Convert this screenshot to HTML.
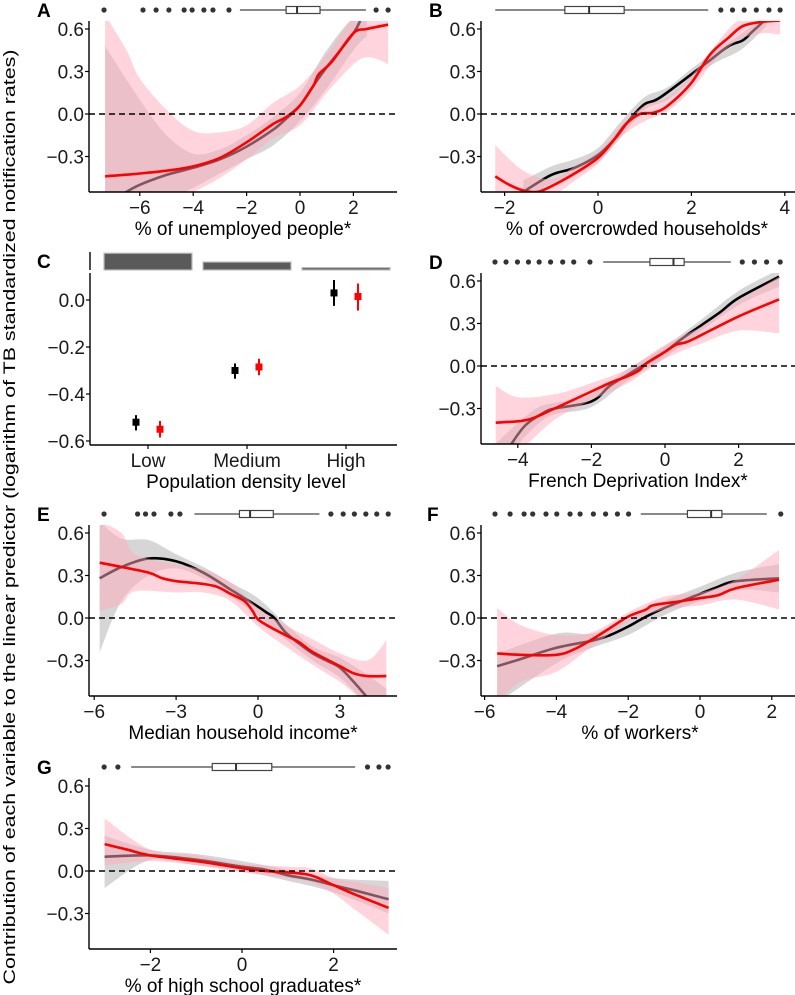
<!DOCTYPE html>
<html><head><meta charset="utf-8"><style>
html,body{margin:0;padding:0;background:#fff}
svg{display:block;font-family:"Liberation Sans",Arial,sans-serif}
</style></head><body>
<svg id="fig" width="795" height="995" viewBox="0 0 795 995" xmlns="http://www.w3.org/2000/svg">
<text transform="translate(15,517) rotate(-90)" text-anchor="middle" font-size="17" textLength="935" lengthAdjust="spacingAndGlyphs">Contribution of each variable to the linear predictor (logarithm of TB standardized notification rates)</text>
</svg>
<script>
// ---- Panel A: % unemployed ----
const A_lineX=[-7.3,-6,-5,-4,-3,-2,-1,-0.5,0,0.5,0.7,1.2,2,2.5,3.3];
const A_red=[-0.44,-0.42,-0.40,-0.37,-0.31,-0.20,-0.07,-0.02,0.06,0.20,0.28,0.37,0.57,0.60,0.63];
const A_blackX=[-6.6,-6,-5,-4,-3,-2,-1,-0.5,0,0.5,1,2,2.3];
const A_black=[-0.56,-0.50,-0.43,-0.38,-0.32,-0.23,-0.11,-0.03,0.06,0.20,0.33,0.57,0.68];
const A_bandX=[-7.3,-6.5,-6,-5,-4,-3,-2,-1,0,1,2,2.5,3,3.3];
const A_redHi=[0.7,0.45,0.25,0.03,-0.12,-0.13,-0.08,0.08,0.2,0.42,0.68,0.68,0.68,0.68];
const A_redLo=[-0.6,-0.6,-0.6,-0.6,-0.55,-0.45,-0.32,-0.17,-0.08,0.15,0.35,0.40,0.38,0.35];
const A_grayX=[-7.3,-6,-5,-4,-3,-2,-1,0,1,2,2.5];
const A_grayHi=[0.48,0.1,-0.15,-0.28,-0.25,-0.15,-0.02,0.15,0.45,0.68,0.68];
const A_grayLo=[-0.6,-0.6,-0.6,-0.52,-0.42,-0.32,-0.22,-0.05,0.18,0.45,0.55];
const A_out=[-7.34,-5.88,-5.39,-4.91,-4.34,-4.04,-3.60,-3.26,-2.66,2.85,3.30];
const A_box=[-2.25,-0.52,-0.11,0.75,2.47];
// ---- Panel B: overcrowded ----
const B_lineX=[-2.2,-1.9,-1.6,-1.3,-1,-0.5,0,0.3,0.6,0.9,1.2,1.5,2,2.4,2.8,3.1,3.5,3.9];
const B_red=[-0.44,-0.50,-0.54,-0.55,-0.51,-0.42,-0.31,-0.20,-0.07,0.0,0.01,0.06,0.22,0.42,0.54,0.62,0.65,0.66];
const B_blackX=[-1.6,-1,-0.5,0,0.4,0.7,1,1.3,2,2.4,2.8,3.1,3.3,3.6];
const B_black=[-0.55,-0.43,-0.38,-0.29,-0.16,-0.03,0.07,0.11,0.28,0.38,0.48,0.52,0.58,0.67];
const B_bandX=[-2.2,-1.6,-1,-0.5,0,0.5,1,1.5,2,2.5,3,3.5,3.9];
const B_redHi=[-0.22,-0.4,-0.46,-0.37,-0.27,-0.08,0.06,0.12,0.27,0.48,0.66,0.68,0.68];
const B_redLo=[-0.6,-0.6,-0.58,-0.47,-0.35,-0.16,-0.05,0.02,0.17,0.38,0.52,0.57,0.56];
const B_grayX=[-1.6,-1,-0.5,0,0.5,1,1.5,2,2.5,3,3.3,3.6];
const B_grayHi=[-0.47,-0.37,-0.32,-0.24,-0.05,0.12,0.19,0.32,0.44,0.55,0.62,0.68];
const B_grayLo=[-0.6,-0.49,-0.43,-0.34,-0.16,0.03,0.10,0.24,0.36,0.44,0.52,0.62];
const B_out=[2.63,2.88,3.13,3.39,3.66,3.90];
const B_box=[-2.2,-0.71,-0.19,0.56,2.36];
// ---- Panel D: deprivation ----
const D_lineX=[-4.6,-4,-3.6,-3,-2,-1.5,-1,-0.7,-0.5,0,0.3,0.6,1,2,3.1];
const D_red=[-0.40,-0.39,-0.37,-0.30,-0.18,-0.12,-0.07,-0.03,0.02,0.10,0.15,0.17,0.22,0.35,0.47];
const D_blackX=[-4.2,-3.8,-3.3,-3,-2,-1.5,-1,-0.5,0,0.5,1,1.5,2,3.1];
const D_black=[-0.56,-0.42,-0.33,-0.30,-0.25,-0.14,-0.06,0.02,0.10,0.20,0.29,0.38,0.48,0.63];
const D_bandX=[-4.6,-4,-3,-2,-1,0,1,2,3.1];
const D_redHi=[-0.14,-0.22,-0.2,-0.12,-0.02,0.15,0.28,0.46,0.63];
const D_redLo=[-0.6,-0.6,-0.38,-0.24,-0.12,0.05,0.16,0.25,0.23];
const D_grayX=[-4.6,-4.2,-3.5,-3,-2,-1,0,1,2,3.1];
const D_grayHi=[-0.55,-0.45,-0.3,-0.26,-0.2,-0.02,0.14,0.33,0.53,0.68];
const D_grayLo=[-0.6,-0.6,-0.42,-0.34,-0.29,-0.1,0.06,0.25,0.43,0.56];
const D_out=[-4.62,-4.32,-4.01,-3.71,-3.42,-3.11,-2.78,-2.48,-2.04,2.10,2.43,2.76,3.13];
const D_box=[-1.68,-0.41,0.23,0.52,1.79];
// ---- Panel E: income ----
const E_lineX=[-5.8,-5,-4,-3.5,-3,-2,-1.5,-1,-0.5,-0.2,0,0.5,1,1.5,2,3,3.5,4,4.7];
const E_red=[0.39,0.36,0.32,0.28,0.26,0.24,0.22,0.17,0.12,0.05,-0.01,-0.07,-0.12,-0.17,-0.24,-0.34,-0.39,-0.41,-0.41];
const E_blackX=[-5.8,-5,-4,-3,-2,-1,-0.5,0,0.3,0.6,1,1.5,2,2.5,3,3.5,4];
const E_black=[0.28,0.36,0.42,0.40,0.32,0.20,0.14,0.08,0.04,0.0,-0.10,-0.18,-0.25,-0.30,-0.35,-0.45,-0.56];
const E_bandX=[-5.8,-5,-4.5,-3,-2,-1,0,1,2,3,4,4.7];
const E_redHi=[0.68,0.6,0.45,0.38,0.34,0.25,0.07,-0.05,-0.15,-0.25,-0.3,-0.16];
const E_redLo=[0.05,0.1,0.19,0.18,0.18,0.12,-0.06,-0.2,-0.33,-0.45,-0.6,-0.6];
const E_grayX=[-5.8,-5,-4,-3,-2,-1,0,1,2,3,4,4.7];
const E_grayHi=[0.68,0.56,0.55,0.45,0.36,0.25,0.14,-0.04,-0.2,-0.28,-0.4,-0.5];
const E_grayLo=[-0.24,0.12,0.30,0.35,0.28,0.15,0.02,-0.15,-0.3,-0.42,-0.6,-0.6];
const E_out=[-5.64,-4.41,-4.12,-3.81,-3.19,-2.86,2.67,3.12,3.53,3.95,4.35,4.77];
const E_box=[-2.33,-0.68,-0.29,0.56,2.25];
// ---- Panel F: workers ----
const F_lineX=[-5.65,-5,-4,-3.5,-3,-2.5,-2,-1.5,-1.3,-0.5,0,0.5,1,2.2];
const F_red=[-0.25,-0.26,-0.26,-0.22,-0.15,-0.07,0.01,0.06,0.09,0.12,0.14,0.16,0.21,0.27];
const F_blackX=[-5.65,-5,-4,-3,-2.5,-2,-1.5,-1,-0.5,0,0.5,1,2.2];
const F_black=[-0.34,-0.29,-0.21,-0.16,-0.12,-0.06,0.01,0.07,0.12,0.17,0.22,0.26,0.28];
const F_bandX=[-5.65,-5,-4,-3,-2,-1,0,1,2.2];
const F_redHi=[0.07,-0.05,-0.12,-0.1,0.04,0.15,0.18,0.27,0.48];
const F_redLo=[-0.6,-0.45,-0.38,-0.2,-0.03,0.06,0.09,0.13,0.06];
const F_grayX=[-5.65,-4,-3,-2,-1,0,1,2.2];
const F_grayHi=[-0.25,-0.11,-0.11,-0.01,0.12,0.22,0.32,0.38];
const F_grayLo=[-0.6,-0.32,-0.21,-0.12,0.02,0.12,0.20,0.18];
const F_out=[-5.71,-5.29,-4.90,-4.66,-4.29,-3.99,-3.62,-3.34,-2.97,-2.63,-2.30,-1.99,2.25];
const F_box=[-1.65,-0.35,0.31,0.61,1.86];
// ---- Panel G: graduates ----
const G_lineX=[-3,-2.5,-2,-1,0,0.5,1,1.5,2,2.5,3.2];
const G_red=[0.19,0.15,0.11,0.07,0.02,0.00,-0.01,-0.03,-0.10,-0.17,-0.26];
const G_blackX=[-3,-2,-1,0,0.5,1,1.5,2,2.5,3.2];
const G_black=[0.10,0.11,0.08,0.03,0.01,-0.03,-0.06,-0.10,-0.14,-0.20];
const G_bandX=[-3,-2,-1,0,1,1.5,2,2.5,3.2];
const G_redHi=[0.37,0.15,0.11,0.05,0.03,0.02,-0.05,-0.08,-0.12];
const G_redLo=[0.04,0.07,0.04,-0.01,-0.05,-0.08,-0.16,-0.28,-0.45];
const G_grayX=[-3,-2,-1,0,1,2,3.2];
const G_grayHi=[0.25,0.15,0.12,0.07,0.01,-0.05,-0.07];
const G_grayLo=[-0.12,0.08,0.04,0.0,-0.07,-0.15,-0.30];
const G_out=[-3.01,-2.71,2.74,2.99,3.19];
const G_box=[-2.42,-0.65,-0.13,0.65,2.47];
// ---- Panel C: density ----
const C_cats=["Low","Medium","High"];
const C_black=[-0.52,-0.30,0.03];
const C_blackLo=[-0.555,-0.335,-0.025];
const C_blackHi=[-0.49,-0.27,0.085];
const C_red=[-0.55,-0.285,0.015];
const C_redLo=[-0.585,-0.32,-0.045];
const C_redHi=[-0.515,-0.25,0.07];
const C_share=[0.42,0.2,0.06];
const Y_TICKS=[0.6,0.3,0,-0.3];
const C_TICKS=[0,-0.2,-0.4,-0.6];

const NS="http://www.w3.org/2000/svg";
const svg=document.getElementById('fig');
const TF=19, TT=19;
function mk(tag,attrs,parent){const e=document.createElementNS(NS,tag);for(const k in attrs)e.setAttribute(k,attrs[k]);(parent||svg).appendChild(e);return e;}
function fmt(v){const s=Math.abs(v).toFixed(1);return (v<-1e-9?"\u2212":"")+s;}
function smooth(pts){let d="M"+pts[0][0].toFixed(1)+","+pts[0][1].toFixed(1);for(let i=0;i<pts.length-1;i++){const p0=pts[Math.max(0,i-1)],p1=pts[i],p2=pts[i+1],p3=pts[Math.min(pts.length-1,i+2)];const c1x=p1[0]+(p2[0]-p0[0])/6,c1y=p1[1]+(p2[1]-p0[1])/6,c2x=p2[0]-(p3[0]-p1[0])/6,c2y=p2[1]-(p3[1]-p1[1])/6;d+=" C"+c1x.toFixed(1)+","+c1y.toFixed(1)+" "+c2x.toFixed(1)+","+c2y.toFixed(1)+" "+p2[0].toFixed(1)+","+p2[1].toFixed(1);}return d;}
const YK=141.7;
let clipN=0;
function panel(c,d){
  const g=mk('g',{});
  
  
  const X=v=>c.x0+v*c.k, Y=v=>c.zy-v*YK;
  const top=c.zy-93, bot=c.zy+78;
  const cid='clip'+(clipN++);
  const cp=mk('clipPath',{id:cid},g);mk('rect',{x:c.left,y:top,width:c.right-c.left,height:bot-top},cp);
  const pg=mk('g',{'clip-path':'url(#'+cid+')'},g);
  function band(xs,hi,lo,fill,name){
    const up=xs.map((x,i)=>[X(x),Y(hi[i])]);const dn=xs.map((x,i)=>[X(x),Y(lo[i])]).reverse();
    let p=smooth(up);p+=" L"+smooth(dn).slice(1)+" Z";
    const e=mk('path',{d:p,fill:fill,stroke:'none'},pg);
    
    
  }
  function line(xs,ys,col,name){const e=mk('path',{d:smooth(xs.map((x,i)=>[X(x),Y(ys[i])])),fill:'none',stroke:col,'stroke-width':2.6,'stroke-linejoin':'round'},pg);
    
    }
  band(d.gx,d.ghi,d.glo,'#d6d6d6','ci-band-black');
  line(d.bx,d.b,'#000','curve-black');
  band(d.rbx,d.rhi,d.rlo,'rgba(255,170,185,0.5)','ci-band-red');
  line(d.rx,d.r,'#ff0000','curve-red');
  const z=mk('line',{x1:c.left,x2:c.right,y1:Y(0),y2:Y(0),stroke:'#000','stroke-width':1.4,'stroke-dasharray':'6,4'},g);
  
  
  const ya=mk('line',{x1:c.left,x2:c.left,y1:top,y2:bot,stroke:'#000','stroke-width':1.4},g);
  
  
  const xa=mk('line',{x1:c.left,x2:c.right,y1:bot,y2:bot,stroke:'#000','stroke-width':1.4},g);
  
  
  Y_TICKS.forEach(t=>{mk('line',{x1:c.left-4,x2:c.left,y1:Y(t),y2:Y(t),stroke:'#000','stroke-width':1.2},g);
    const tl=mk('text',{x:c.left-5,y:Y(t)+7,'text-anchor':'end','font-size':TF,fill:'#1a1a1a'},g);tl.textContent=fmt(t);
    
    });
  c.ticks.forEach(t=>{mk('line',{x1:X(t),x2:X(t),y1:bot,y2:bot+4,stroke:'#000','stroke-width':1.2},g);
    const tl=mk('text',{x:X(t),y:bot+22,'text-anchor':'middle','font-size':TF,fill:'#1a1a1a'},g);tl.textContent=(t<0?"\u2212":"")+Math.abs(t);
    
    });
  const tt=mk('text',{x:c.tx,y:bot+43,'text-anchor':'middle','font-size':TT,fill:'#000'},g);tt.textContent=c.title;
  
  
  const lt=mk('text',{x:c.lx,y:c.by+7,'font-size':19,'font-weight':'bold'},g);lt.textContent=c.id;
  
  
  const bg=mk('g',{},g);
  
  
  const b=d.box;
  mk('line',{x1:X(b[0]),x2:X(b[1]),y1:c.by,y2:c.by,stroke:'#444','stroke-width':1.2},bg);
  mk('line',{x1:X(b[3]),x2:X(b[4]),y1:c.by,y2:c.by,stroke:'#444','stroke-width':1.2},bg);
  mk('rect',{x:X(b[1]),y:c.by-3.5,width:X(b[3])-X(b[1]),height:7,fill:'#fff',stroke:'#444','stroke-width':1.2},bg);
  mk('line',{x1:X(b[2]),x2:X(b[2]),y1:c.by-3.5,y2:c.by+3.5,stroke:'#333','stroke-width':2},bg);
  d.out.forEach(o=>{const e=mk('circle',{cx:X(o),cy:c.by,r:2.6,fill:'#333'},bg);
    
    });
}
panel({id:'A',left:89,right:397,zy:114,x0:300,k:26.7,ticks:[-6,-4,-2,0,2],by:10,lx:37,tx:243,title:'% of unemployed people*'},
 {rx:A_lineX,r:A_red,bx:A_blackX,b:A_black,rbx:A_bandX,rhi:A_redHi,rlo:A_redLo,gx:A_grayX,ghi:A_grayHi,glo:A_grayLo,out:A_out,box:A_box});
panel({id:'B',left:481,right:795,zy:114,x0:598,k:46.7,ticks:[-2,0,2,4],by:10,lx:429,tx:637,title:'% of overcrowded households*'},
 {rx:B_lineX,r:B_red,bx:B_blackX,b:B_black,rbx:B_bandX,rhi:B_redHi,rlo:B_redLo,gx:B_grayX,ghi:B_grayHi,glo:B_grayLo,out:B_out,box:B_box});
panel({id:'D',left:481,right:795,zy:366,x0:665,k:36.8,ticks:[-4,-2,0,2],by:262,lx:429,tx:638,title:'French Deprivation Index*'},
 {rx:D_lineX,r:D_red,bx:D_blackX,b:D_black,rbx:D_bandX,rhi:D_redHi,rlo:D_redLo,gx:D_grayX,ghi:D_grayHi,glo:D_grayLo,out:D_out,box:D_box});
panel({id:'E',left:89,right:397,zy:618,x0:258,k:27.3,ticks:[-6,-3,0,3],by:514,lx:37,tx:243,title:'Median household income*'},
 {rx:E_lineX,r:E_red,bx:E_blackX,b:E_black,rbx:E_bandX,rhi:E_redHi,rlo:E_redLo,gx:E_grayX,ghi:E_grayHi,glo:E_grayLo,out:E_out,box:E_box});
panel({id:'F',left:481,right:795,zy:618,x0:700,k:35.9,ticks:[-6,-4,-2,0,2],by:514,lx:427,tx:640,title:'% of workers*'},
 {rx:F_lineX,r:F_red,bx:F_blackX,b:F_black,rbx:F_bandX,rhi:F_redHi,rlo:F_redLo,gx:F_grayX,ghi:F_grayHi,glo:F_grayLo,out:F_out,box:F_box});
panel({id:'G',left:89,right:397,zy:871,x0:242,k:45.8,ticks:[-2,0,2],by:767,lx:37,tx:243,title:'% of high school graduates*'},
 {rx:G_lineX,r:G_red,bx:G_blackX,b:G_black,rbx:G_bandX,rhi:G_redHi,rlo:G_redLo,gx:G_grayX,ghi:G_grayHi,glo:G_grayLo,out:G_out,box:G_box});

(function(){
  const g=mk('g',{});
  
  
  const left=90,right=397,top=273,bot=445;
  const Y=v=>300-v*235;
  const CX=[148,247,346];
  const lt=mk('text',{x:37,y:268,'font-size':19,'font-weight':'bold'},g);lt.textContent='C';
  
  
  mk('line',{x1:left,x2:left,y1:252,y2:270,stroke:'#000','stroke-width':1.4},g);
  C_share.forEach((s,i)=>{const h=s*40;const r=mk('rect',{x:CX[i]-44,y:270-h,width:88,height:h,fill:'#5a5a5a',stroke:'#bdbdbd','stroke-width':1.2},g);
    
    });
  const ya=mk('line',{x1:left,x2:left,y1:top,y2:bot,stroke:'#000','stroke-width':1.4},g);
  
  
  const xa=mk('line',{x1:left,x2:right,y1:bot,y2:bot,stroke:'#000','stroke-width':1.4},g);
  
  
  C_TICKS.forEach(t=>{mk('line',{x1:left-4,x2:left,y1:Y(t),y2:Y(t),stroke:'#000','stroke-width':1.2},g);
    const tl=mk('text',{x:left-5,y:Y(t)+7,'text-anchor':'end','font-size':TF,fill:'#1a1a1a'},g);tl.textContent=fmt(t);
    
    });
  C_cats.forEach((c,i)=>{mk('line',{x1:CX[i],x2:CX[i],y1:bot,y2:bot+4,stroke:'#000','stroke-width':1.2},g);
    const tl=mk('text',{x:CX[i],y:bot+22,'text-anchor':'middle','font-size':TF,fill:'#1a1a1a'},g);tl.textContent=c;
    
    
    [[C_black,C_blackLo,C_blackHi,'#000',-12,'point-black'],[C_red,C_redLo,C_redHi,'#ff0000',12,'point-red']].forEach(s=>{
      const x=CX[i]+s[4];
      mk('line',{x1:x,x2:x,y1:Y(s[1][i]),y2:Y(s[2][i]),stroke:s[3],'stroke-width':2},g);
      const p=mk('rect',{x:x-3.5,y:Y(s[0][i])-3.5,width:7,height:7,fill:s[3]},g);
      
      
    });});
  const tt=mk('text',{x:246,y:bot+43,'text-anchor':'middle','font-size':TT},g);tt.textContent='Population density level';
  
  
})();
</script>
</body></html>
